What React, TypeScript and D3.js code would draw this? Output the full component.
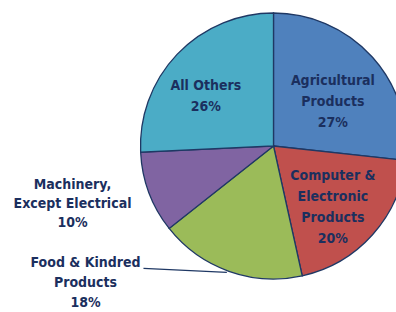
import * as d3 from "d3";
import { useEffect, useRef } from "react";

const categories = [
  "Agricultural Products",
  "Computer & Electronic Products",
  "Food & Kindred Products",
  "Machinery, Except Electrical",
  "All Others",
];
const shares = [27, 20, 18, 10, 26];
const labelLines = [
  ["Agricultural", "Products", "27%"],
  ["Computer &", "Electronic", "Products", "20%"],
  ["Food & Kindred", "Products", "18%"],
  ["Machinery,", "Except Electrical", "10%"],
  ["All Others", "26%"],
];
const colors = ["#4F81BD", "#C0504D", "#9BBB59", "#8064A2", "#4BACC6"];

const width = 396;
const height = 312;
const cx = 273.5;
const cy = 146;
const radius = 133;

const App = () => {
  const ref = useRef<SVGSVGElement>(null);

  useEffect(() => {
    const svg = d3.select(ref.current);
    svg.selectAll("*").remove();

    const data = categories.map((name, i) => ({ name, value: shares[i], i }));
    const pie = d3.pie<any>().sort(null).value(d => d.value);
    const arcs = pie(data);
    const arc = d3.arc<any>().innerRadius(0).outerRadius(radius);
    const labelArc = d3.arc<any>().innerRadius(radius * 0.6).outerRadius(radius * 0.6);

    const g = svg.append("g").attr("transform", `translate(${cx},${cy})`);

    g.selectAll("path")
      .data(arcs)
      .enter()
      .append("path")
      .attr("d", arc)
      .style("fill", d => colors[d.data.i])
      .style("stroke", "#1F3864")
      .style("stroke-width", 1.3);

    const lineH = 21;
    const font = "'DejaVu Sans Condensed', 'DejaVu Sans', sans-serif";

    arcs.forEach(d => {
      const lines = labelLines[d.data.i];
      let x: number, y: number, lh = lineH;
      const mid = (d.startAngle + d.endAngle) / 2;
      if (d.data.i === 3) {
        // outside label, left of the pie
        x = -radius - 68;
        y = 57;
        lh = 19;
      } else if (d.data.i === 2) {
        x = -radius - 55;
        y = radius * -Math.cos(mid) + 11;
        lh = 20;
        // leader line from label to pie edge
        const edge = [radius * Math.sin(mid), -radius * Math.cos(mid)];
        const base = y - lh + 6;
        g.append("polyline")
          .attr("points", `${x + 58},${base} ${edge[0] - 2},${edge[1] + 1}`)
          .style("fill", "none")
          .style("stroke", "#1F3864")
          .style("stroke-width", 1.2);
      } else {
        const c = labelArc.centroid(d);
        x = c[0];
        y = c[1];
        if (d.data.i === 4) {
          x -= 10;
          y += 5;
        }
        if (d.data.i === 1) y += 7;
        if (d.data.i === 0) y += 8;
      }
      const top = y - ((lines.length - 1) * lh) / 2;
      const t = g
        .append("text")
        .attr("text-anchor", "middle")
        .style("font-family", font)
        .style("font-weight", "bold")
        .style("font-size", "14px")
        .style("fill", "#1B2F5E");
      lines.forEach((ln, k) => {
        t.append("tspan")
          .attr("x", x)
          .attr("y", top + k * lh + 5)
          .text(ln);
      });
    });
  }, []);

  return (
    <svg
      ref={ref}
      width={width}
      height={height}
      style={{ position: "absolute", left: 0, top: 0, background: "#fff" }}
    ></svg>
  );
};

export default App;
